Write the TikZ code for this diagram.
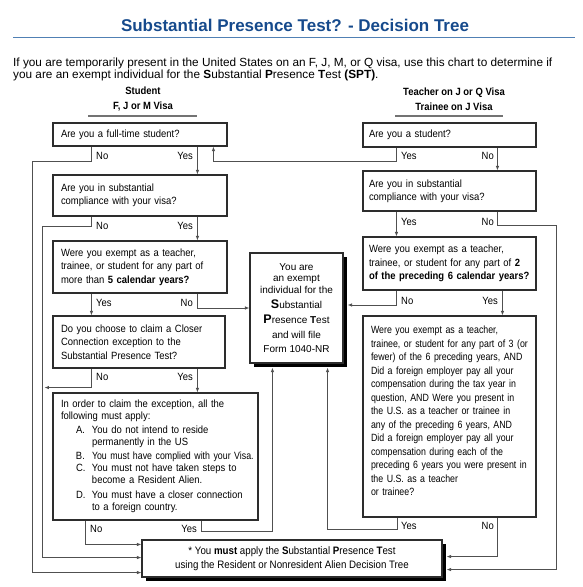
\documentclass[tikz,border=0pt]{standalone}
\usepackage{fontspec}
\setmainfont{Liberation Sans}
\newfontfamily\boxfont{Liberation Sans}[FakeStretch=0.9]
\newfontfamily\tightfont{Liberation Sans}[FakeStretch=0.84]
\usetikzlibrary{arrows.meta, calc, shadows}
\definecolor{titleblue}{RGB}{22,74,140}
\definecolor{ruleblue}{RGB}{80,128,180}
\definecolor{boxline}{RGB}{45,45,45}
\definecolor{wireline}{RGB}{80,80,80}
\newcommand{\qfont}{\boxfont\fontsize{10.5}{13.4}\selectfont}

\begin{document}
\begin{tikzpicture}[
    x=1pt, y=-1pt,
    qbox/.style={draw=boxline, line width=1.1pt, fill=white, inner xsep=8pt, inner ysep=0pt, align=left, font=\qfont, minimum width=174pt, text width=158pt},
    rbox/.style={qbox, inner xsep=6pt, minimum width=173pt, text width=161pt},
    shbox/.style={draw=boxline, line width=1.1pt, fill=white, inner sep=0pt, align=center, drop shadow={shadow xshift=3.5pt, shadow yshift=-3.5pt, fill=black, opacity=1}},
    lbl/.style={font=\qfont, inner sep=0pt},
    hdr/.style={font=\boxfont\bfseries\fontsize{10.5}{15}\selectfont, align=center, inner sep=0pt},
    uline/.style={draw=black!55, line width=1.8pt},
    wire/.style={draw=wireline, line width=0.8pt},
    arr/.style={wire, -{Latex[length=4.5pt, width=3.5pt]}},
]
\useasboundingbox (0,0) rectangle (583,587);

% heading
\node[font=\fontsize{17}{20}\selectfont\bfseries, text=titleblue] (title) at (295,25.5)
    {Substantial Presence Test? - Decision Tree};
\draw[ruleblue, line width=1.2pt] (13,37.5) -- (575,37.5);
\node[anchor=north west, inner sep=0pt, align=left, font=\fontsize{11.8}{12.6}\selectfont] (intro) at (13,57.5)
    {If you are temporarily present in the United States on an F, J, M, or Q visa, use this chart to determine if\\
     you are an exempt individual for the \textbf{S}ubstantial \textbf{P}resence \textbf{T}est \textbf{(SPT)}.};
\node[hdr] (stud) at (143,99.5) {Student\\F, J or M Visa};
\node[hdr] (teach) at (454,99.5) {Teacher on J or Q Visa\\Trainee on J Visa};
\draw[uline] (88,116) -- (197,116);
\draw[uline] (395,116) -- (503,116);

% student column
\node[qbox, minimum height=23pt] (b1) at (140,134.5) {Are you a full-time student?};
\node[qbox, minimum height=41pt] (b2) at (140,195.5) {Are you in substantial\\compliance with your visa?};
\node[qbox, minimum height=52pt] (b3) at (140,267)
    {Were you exempt as a teacher,\\trainee, or student for any part of\\more than \textbf{5 calendar years?}};
\node[qbox, minimum height=52pt, minimum width=172pt, text width=156pt] (b4) at (139,342)
    {Do you choose to claim a Closer\\Connection exception to the\\Substantial Presence Test?};
\node[qbox, minimum height=127pt, minimum width=205pt, text width=189pt, font=\boxfont\fontsize{10.5}{12.2}\selectfont] (b5) at (155.5,456.5)
    {In order to claim the exception, all the\\
     following must apply:\\[1pt]
     \hspace*{15pt}\makebox[16pt][l]{A.}You do not intend to reside\\
     \hspace*{31pt}permanently in the US\\[2pt]
     \hspace*{15pt}\makebox[16pt][l]{B.}\mbox{\tightfont You must have complied with your Visa.}\\
     \hspace*{15pt}\makebox[16pt][l]{C.}You must not have taken steps to\\
     \hspace*{31pt}become a Resident Alien.\\[2.5pt]
     \hspace*{15pt}\makebox[16pt][l]{D.}You must have a closer connection\\
     \hspace*{31pt}to a foreign country.};

% teacher / trainee column
\node[rbox, minimum height=24pt] (r1) at (449.5,135) {Are you a student?};
\node[rbox, minimum height=40pt] (r2) at (449.5,191) {Are you in substantial\\compliance with your visa?};
\node[rbox, minimum height=53pt] (r3) at (449.5,263.5)
    {Were you exempt as a teacher,\\\mbox{trainee, or student for any part of \textbf{2}}\\\mbox{\textbf{of the preceding 6 calendar years?}}};
\node[rbox, minimum height=201pt, inner xsep=8pt, text width=157pt] (r4) at (449.5,416.5)
    {\parbox[c][181pt][t]{157pt}{\raggedright\tightfont\fontsize{10.5}{13.5}\selectfont
     Were you exempt as a teacher,\\trainee, or student for any part of 3 (or\\fewer) of the 6 preceding years, AND\\
     Did a foreign employer pay all your\\compensation during the tax year in\\question, AND Were you present in\\
     the U.S. as a teacher or trainee in\\any of the preceding 6 years, AND\\Did a foreign employer pay all your\\
     compensation during each of the\\preceding 6 years you were present in\\the U.S. as a teacher\\or trainee?}};

% outcomes
\node[shbox, minimum width=93pt, minimum height=110pt, font=\fontsize{10}{11.5}\selectfont] (ctr) at (296.5,308)
    {You are\\an exempt\\individual for the\\[3.5pt]
     {\fontsize{12.5}{13}\selectfont\bfseries S}ubstantial\\[3.5pt]
     {\fontsize{12.5}{13}\selectfont\bfseries P}resence \textbf{T}est\\[3.5pt]
     and will file\\[2.5pt]Form 1040-NR};
\node[shbox, minimum width=300pt, minimum height=37pt, font=\boxfont\fontsize{10.8}{14}\selectfont] (bot) at (292,558.5)
    {* You \textbf{must} apply the \textbf{S}ubstantial \textbf{P}resence \textbf{T}est\\
     using the Resident or Nonresident Alien Decision Tree};

% answer labels
\node[lbl, anchor=west] (b1no) at (96,156) {No};
\node[lbl, anchor=east] (b1yes) at (193,156) {Yes};
\node[lbl, anchor=west] (b2no) at (96,226) {No};
\node[lbl, anchor=east] (b2yes) at (193,226) {Yes};
\node[lbl, anchor=west] (b3yes) at (96,303) {Yes};
\node[lbl, anchor=east] (b3no) at (193,303) {No};
\node[lbl, anchor=west] (b4no) at (96,377) {No};
\node[lbl, anchor=east] (b4yes) at (193,377) {Yes};
\node[lbl, anchor=west] (b5no) at (90,529) {No};
\node[lbl, anchor=east] (b5yes) at (197,529) {Yes};
\node[lbl, anchor=west] (r1yes) at (401,156) {Yes};
\node[lbl, anchor=east] (r1no) at (494,156) {No};
\node[lbl, anchor=west] (r2yes) at (401,222) {Yes};
\node[lbl, anchor=east] (r2no) at (494,222) {No};
\node[lbl, anchor=west] (r3no) at (401,301) {No};
\node[lbl, anchor=east] (r3yes) at (498,301) {Yes};
\node[lbl, anchor=west] (r4yes) at (401,526) {Yes};
\node[lbl, anchor=east] (r4no) at (494,526) {No};

% connectors, student side
\draw[arr] ($(b1.south west)+(39,0)$) |- ($(b1.south west)+(-20,15)$) |- ($(bot.south west)+(0,-5)$);
\draw[arr] ($(b1.south west)+(145,0)$) -- ($(b2.north west)+(145,0)$);
\draw[arr] ($(b2.south west)+(39,0)$) |- ($(b2.south west)+(-10,10)$) |- ($(bot.south west)+(0,-20)$);
\draw[arr] ($(b2.south west)+(145,0)$) -- ($(b3.north west)+(145,0)$);
\draw[arr] ($(b3.south west)+(39,0)$) -- ($(b4.north west)+(39,0)$);
\draw[arr] ($(b3.south west)+(145,0)$) |- (ctr.west);
\draw[arr] ($(b4.south west)+(39,0)$) |- ($(b4.south west)+(-8,19)$);
\draw[arr] ($(b4.south west)+(145,0)$) -- ($(b5.north west)+(145,0)$);
\draw[arr] ($(b5.south west)+(33,0)$) |- ($(bot.north west)+(0,5)$);
\draw[arr] ($(b5.south west)+(149,0)$) -- ++(0,11) -| ($(ctr.south west)+(23,4)$);

% connectors, teacher side
\draw[arr] ($(r1.south west)+(34,0)$) -- ++(0,14) -| ($(b1.south west)+(161,0)$);
\draw[arr] ($(r1.south west)+(135,0)$) -- ($(r2.north west)+(135,0)$);
\draw[arr] ($(r2.south west)+(34,0)$) -- ($(r3.north west)+(34,0)$);
\draw[arr] ($(r2.south west)+(135,0)$) |- ($(r2.south east)+(20,14)$) |- ($(bot.south east)+(4,-8)$);
\draw[arr] ($(r3.south west)+(34,0)$) |- ($(ctr.east)+(4,-3)$);
\draw[arr] ($(r3.south west)+(140,0)$) -- ($(r4.north west)+(140,0)$);
\draw[arr] ($(r4.south west)+(35,0)$) -- ++(0,12) -| ($(ctr.south east)+(-16,4)$);
\draw[arr] ($(r4.south west)+(135,0)$) |- ($(bot.south east)+(4,-21)$);

\end{tikzpicture}
\end{document}
